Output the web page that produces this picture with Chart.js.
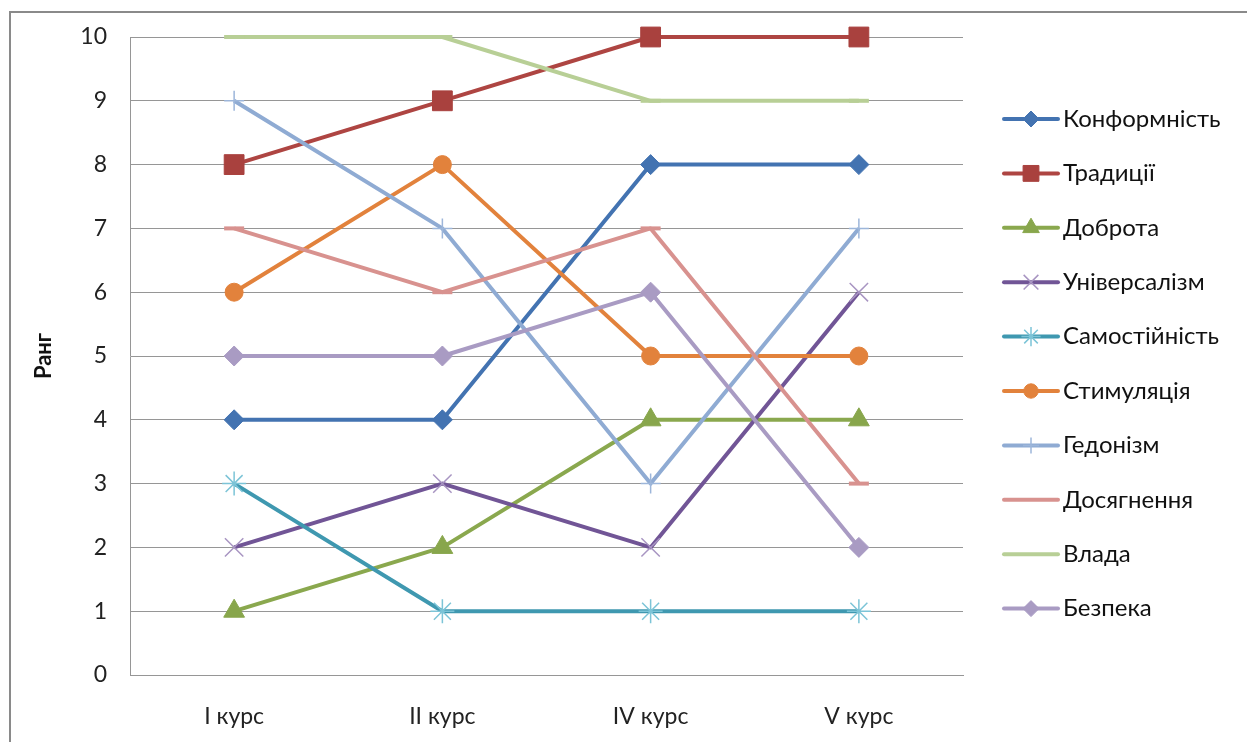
<!DOCTYPE html>
<html lang="uk">
<head>
<meta charset="utf-8">
<title>Ранг цінностей за курсами</title>
<script src="https://cdn.jsdelivr.net/npm/chart.js@4.4.1/dist/chart.umd.min.js"></script>
<style>
  html, body { margin: 0; padding: 0; background: #fff; overflow: hidden; }
  #wrap { position: relative; width: 1247px; height: 742px; }
  #frame {
    position: absolute; left: 9px; top: 11px; width: 1300px; height: 800px;
    border-top: 2px solid #8a8a8a; border-left: 2px solid #8a8a8a;
    pointer-events: none;
  }
  canvas { position: absolute; left: 0; top: 0; }
</style>
</head>
<body>
<div id="wrap">
  <div id="frame"></div>
  <canvas id="chart" width="1247" height="742"></canvas>
</div>
<script>
// Courses along the horizontal axis
const courses = ['I курс', 'II курс', 'IV курс', 'V курс'];

// Rank of each value per course
const konformnist   = [4, 4, 8, 8];
const tradytsii     = [8, 9, 10, 10];
const dobrota       = [1, 2, 4, 4];
const universalizm  = [2, 3, 2, 6];
const samostiinist  = [3, 1, 1, 1];
const stymuliatsiia = [6, 8, 5, 5];
const hedonizm      = [9, 7, 3, 7];
const dosiahnennia  = [7, 6, 7, 3];
const vlada         = [10, 10, 9, 9];
const bezpeka       = [5, 5, 6, 2];

const seriesNames = ['Конформність', 'Традиції', 'Доброта', 'Універсалізм', 'Самостійність',
                     'Стимуляція', 'Гедонізм', 'Досягнення', 'Влада', 'Безпека'];
const seriesValues = [konformnist, tradytsii, dobrota, universalizm, samostiinist,
                      stymuliatsiia, hedonizm, dosiahnennia, vlada, bezpeka];

// Rank axis ticks
const rankTicks = [0, 1, 2, 3, 4, 5, 6, 7, 8, 9, 10];

const FONT = 'Lato, "Noto Sans", sans-serif';

// line colour, marker style, marker radius, marker fill, marker outline, outline width
const styles = [
  { line: '#4373B1', point: 'rectRot',  r: 10, fill: '#4373B1', edge: '#4373B1', bw: 1 },
  { line: '#AE4542', point: 'rect',     r: 14, fill: '#A9413E', edge: '#A9413E', bw: 1 },
  { line: '#8AA84E', point: 'triangle', r: 12, fill: '#88A64C', edge: '#88A64C', bw: 1 },
  { line: '#715596', point: 'crossRot', r: 13, fill: '#A895C2', edge: '#A895C2', bw: 1.5 },
  { line: '#3F98B0', point: 'star',     r: 12, fill: '#7CC4D7', edge: '#7CC4D7', bw: 1.5 },
  { line: '#E2823C', point: 'circle',   r: 9,  fill: '#E2823C', edge: '#E2823C', bw: 1 },
  { line: '#8FABD3', point: 'cross',    r: 10, fill: '#9DB6DA', edge: '#9DB6DA', bw: 1.5 },
  { line: '#D8928F', point: 'line',     r: 10, fill: '#D8928F', edge: '#D8928F', bw: 4 },
  { line: '#B8CF96', point: 'line',     r: 10, fill: '#B8CF96', edge: '#B8CF96', bw: 4 },
  { line: '#A99BC3', point: 'rectRot',  r: 10, fill: '#A99BC3', edge: '#A99BC3', bw: 1 }
];

const datasets = seriesNames.map((name, i) => ({
  label: name,
  data: seriesValues[i],
  borderColor: styles[i].line,
  backgroundColor: styles[i].fill,
  borderWidth: 4,
  borderJoinStyle: 'round',
  pointStyle: styles[i].point,
  pointRadius: styles[i].r,
  pointHoverRadius: styles[i].r,
  pointBackgroundColor: styles[i].fill,
  pointBorderColor: styles[i].edge,
  pointBorderWidth: styles[i].bw,
  tension: 0,
  clip: false,
  order: seriesNames.length - i   // later series painted on top
}));

// Legend on the right: a short line with the series marker, then the name
const sideLegend = {
  id: 'sideLegend',
  afterDraw(chart) {
    const ctx = chart.ctx;
    const x0 = 1004, x1 = 1058, textX = 1063, top = 119, step = 54.4;
    ctx.save();
    chart.data.datasets.forEach((ds, i) => {
      const y = top + i * step;
      ctx.strokeStyle = ds.borderColor;
      ctx.lineWidth = 4;
      ctx.lineCap = 'round';
      ctx.beginPath();
      ctx.moveTo(x0, y);
      ctx.lineTo(x1, y);
      ctx.stroke();
      if (ds.pointStyle !== 'line') {
        ctx.fillStyle = ds.pointBackgroundColor;
        ctx.strokeStyle = ds.pointBorderColor;
        ctx.lineWidth = ds.pointBorderWidth;
        ctx.lineCap = 'butt';
        Chart.helpers.drawPoint(ctx, {
          pointStyle: ds.pointStyle,
          radius: ds.pointRadius * 0.8,
          rotation: 0,
          borderWidth: ds.pointBorderWidth
        }, (x0 + x1) / 2, y);
      }
      ctx.fillStyle = '#111';
      ctx.font = '24px ' + FONT;
      ctx.textAlign = 'left';
      ctx.textBaseline = 'middle';
      ctx.fillText(ds.label, textX, y);
    });
    ctx.restore();
  }
};

new Chart(document.getElementById('chart'), {
  type: 'line',
  data: { labels: courses, datasets },
  options: {
    responsive: false,
    animation: false,
    events: [],
    layout: { padding: { top: 37, right: 284, left: 0, bottom: 0 } },
    plugins: {
      legend: { display: false },
      tooltip: { enabled: false }
    },
    scales: {
      x: {
        offset: true,
        grid: { display: false, drawTicks: false },
        border: { display: true, color: '#969696', width: 1 },
        ticks: {
          color: '#222',
          font: { family: FONT, size: 23 },
          padding: 28,
          maxRotation: 0
        },
        afterFit(scale) { scale.height = 67; }
      },
      y: {
        min: 0,
        max: 10,
        afterBuildTicks(scale) { scale.ticks = rankTicks.map(v => ({ value: v })); },
        grid: { color: '#969696', lineWidth: 1, drawTicks: false },
        border: { display: true, color: '#969696', width: 1 },
        ticks: {
          color: '#222',
          font: { family: FONT, size: 23 },
          padding: 23
        },
        title: {
          display: true,
          text: 'Ранг',
          color: '#111',
          font: { family: FONT, size: 22, weight: 'bold' },
          padding: { top: 31, bottom: 0 }
        },
        afterFit(scale) { scale.width = 130; }
      }
    }
  },
  plugins: [sideLegend]
});
</script>
</body>
</html>
